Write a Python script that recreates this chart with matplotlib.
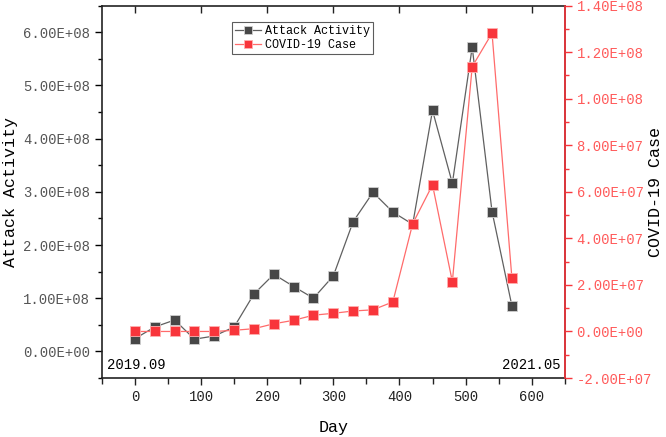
import matplotlib
matplotlib.use("Agg")
import matplotlib.pyplot as plt
from matplotlib.ticker import MultipleLocator, FuncFormatter

plt.rcParams["font.family"] = ["Liberation Mono", "DejaVu Sans Mono"]

days = [0, 30, 60, 90, 120, 150, 180, 210, 240, 270,
        300, 330, 360, 390, 420, 450, 480, 510, 540, 570]
attack = [0.24e8, 0.46e8, 0.59e8, 0.23e8, 0.29e8, 0.46e8, 1.08e8, 1.45e8, 1.22e8, 1.00e8,
          1.42e8, 2.44e8, 2.99e8, 2.62e8, 2.39e8, 4.53e8, 3.16e8, 5.72e8, 2.63e8, 0.86e8]
covid = [0.0, 0.0, 0.0, 0.0, 0.0, 0.05e7, 0.12e7, 0.33e7, 0.48e7, 0.70e7,
         0.78e7, 0.88e7, 0.93e7, 1.27e7, 4.63e7, 6.30e7, 2.14e7, 11.38e7, 12.82e7, 2.31e7]

GREY = "#474747"
RED = "#f8353b"
RED_TXT = "#ff5a5a"


def sci(v, _):
    s = "%.2E" % v
    if s.startswith("-0.00"):
        s = s[1:]
    return s


fig = plt.figure(figsize=(6.66, 4.37), dpi=100)
ax = fig.add_axes([0.153, 0.135, 0.695, 0.852])
ax2 = ax.twinx()

l1, = ax.plot(days, attack, color="#606060", lw=0.9, marker="s", ms=7.5,
              mfc=GREY, mec="#d0d0d0", mew=0.6, label="Attack Activity", zorder=3)
l2, = ax2.plot(days, covid, color="#ff6b6b", lw=0.9, marker="s", ms=7.5,
               mfc=RED, mec="#ffb0b0", mew=0.6, label="COVID-19 Case", zorder=3)

ax.set_xlim(-50, 650)
ax.set_ylim(-0.5e8, 6.5e8)
ax2.set_ylim(-2e7, 1.4e8)

ax.xaxis.set_major_locator(MultipleLocator(100))
ax.xaxis.set_minor_locator(MultipleLocator(50))
ax.yaxis.set_major_locator(MultipleLocator(1e8))
ax.yaxis.set_minor_locator(MultipleLocator(0.5e8))
ax2.yaxis.set_major_locator(MultipleLocator(2e7))
ax2.yaxis.set_minor_locator(MultipleLocator(1e7))
ax.yaxis.set_major_formatter(FuncFormatter(sci))
ax2.yaxis.set_major_formatter(FuncFormatter(sci))

ax.tick_params(axis="x", which="both", direction="out", labelsize=10,
               colors="#222222")
ax.tick_params(axis="x", which="major", length=5, width=1)
ax.tick_params(axis="x", which="minor", length=4, width=1)
ax.tick_params(axis="y", which="major", length=5, width=1, labelsize=10,
               labelcolor="#555555")
ax.tick_params(axis="y", which="minor", length=3, width=1)
ax2.tick_params(axis="y", which="major", length=5, width=1, colors=RED,
                labelcolor=RED_TXT, labelsize=10)
ax2.tick_params(axis="y", which="minor", length=3, width=1, colors=RED)

# inward major ticks on the top frame
top = ax.secondary_xaxis("top")
top.xaxis.set_major_locator(MultipleLocator(100))
top.tick_params(direction="in", length=5, width=1, labeltop=False, colors="#222222")
top.spines["top"].set_visible(False)

for s in ax.spines.values():
    s.set_linewidth(1.2)
    s.set_color("#222222")
ax2.spines["right"].set_color(RED)
ax2.spines["right"].set_linewidth(1.2)
ax2.spines["left"].set_visible(False)
ax2.spines["top"].set_visible(False)
ax2.spines["bottom"].set_visible(False)

ax.set_xlabel("Day", fontsize=12, labelpad=12)
ax.set_ylabel("Attack Activity", fontsize=12, labelpad=4)
ax2.set_ylabel("COVID-19 Case", fontsize=12, rotation=90, va="center")
ax2.yaxis.set_label_coords(1.197, 0.5)

ax.text(0.01, 0.015, "2019.09", transform=ax.transAxes, fontsize=10,
        ha="left", va="bottom")
ax.text(0.99, 0.015, "2021.05", transform=ax.transAxes, fontsize=10,
        ha="right", va="bottom")

leg = ax.legend(handles=[l1, l2], loc="upper left", bbox_to_anchor=(0.282, 0.955),
                fontsize=8.5, frameon=True, fancybox=False, borderpad=0.25,
                handlelength=2.2, handletextpad=0.3, labelspacing=0.15,
                markerscale=0.7, borderaxespad=0)
leg.get_frame().set_edgecolor("#333333")
leg.get_frame().set_linewidth(0.8)

fig.savefig("out.png", dpi=100)
